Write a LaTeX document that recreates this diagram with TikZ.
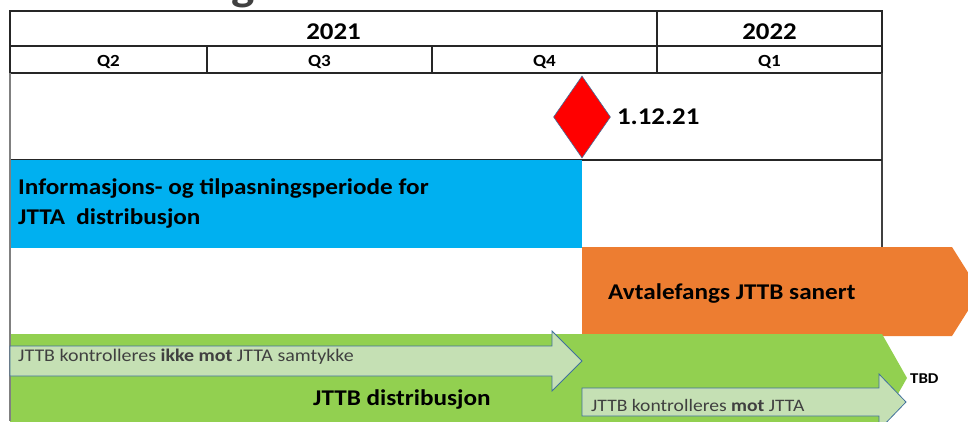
\documentclass[tikz,border=0pt]{standalone}
\usepackage{fontspec}
\setmainfont{Carlito}[FakeStretch=1.12]
\usetikzlibrary{shapes.geometric,positioning}

\definecolor{infoblue}{HTML}{00B0F0}
\definecolor{saneringorange}{HTML}{ED7D31}
\definecolor{distgreen}{HTML}{92D050}
\definecolor{palegreen}{HTML}{C5E0B4}
\definecolor{arrowedge}{HTML}{41719C}
\definecolor{textgray}{HTML}{404040}

\tikzset{
  gridline/.style={line width=1.3pt, black!85},
  bodyline/.style={line width=1.3pt, black!50},
  yearlabel/.style={font=\bfseries\fontsize{24}{24}\selectfont, anchor=base, inner sep=0pt},
  quarterlabel/.style={font=\bfseries\fontsize{17}{17}\selectfont, anchor=base, inner sep=0pt},
  barlabel/.style={font=\bfseries\fontsize{22.5}{22.5}\selectfont, anchor=base west, inner sep=0pt},
  arrowlabel/.style={font=\fontsize{17.8}{17.8}\selectfont, text=textgray, anchor=base west, inner sep=0pt},
  arrowbody/.style={fill=palegreen, draw=arrowedge, line width=0.8pt, line join=miter}
}

\begin{document}
\begin{tikzpicture}[x=1pt, y=-1pt]
            {
    \useasboundingbox (0,0) rectangle (968,421);

    \def\infobar{(10,160) rectangle (582,248)}
    \def\saneringarrow{(582,247) -- (952,247) -- (980,291.5) -- (952,336) -- (582,336) -- cycle}
    \def\distchevron{(10,334) -- (882,334) -- (907,378) -- (882,422) -- (10,422) -- cycle}
    \def\ikkemotarrow{(10,346) -- (552,346) -- (552,331) -- (582,361) -- (552,391) -- (552,376) -- (10,376) -- cycle}
    \def\motarrow{(582,388) -- (879,388) -- (879,374) -- (906,402) -- (879,430) -- (879,416) -- (582,416) -- cycle}

    % title fragment above the table
    \node[font=\bfseries\fontsize{44}{44}\selectfont, text=textgray, anchor=base, inner sep=0pt] (title) at (243,0) {g};

    % year and quarter header
    \draw[gridline] (10,11) rectangle (882,73);
    \draw[gridline] (10,46) -- (882,46);
    \draw[gridline] (657,11) -- (657,73);
    \draw[gridline] (207,46) -- (207,73);
    \draw[gridline] (432,46) -- (432,73);
    \node[yearlabel] (y2021) at (333.5,39) {2021};
    \node[yearlabel] (y2022) at (769.5,39) {2022};
    \node[quarterlabel] (q2) at (108.5,66) {Q2};
    \node[quarterlabel] (q3) at (319.5,66) {Q3};
    \node[quarterlabel] (q4) at (544.5,66) {Q4};
    \node[quarterlabel] (q1) at (769.5,66) {Q1};

    % body frame
    \draw[gridline, black!75] (882,73) -- (882,340);
    \draw[gridline] (10,160) -- (882,160);

    \fill[infoblue] \infobar;
    \fill[saneringorange] \saneringarrow;
    \fill[distgreen] \distchevron;
    \draw[bodyline] (10,73) -- (10,421);

    \draw[arrowbody] \ikkemotarrow;
    \draw[arrowbody] \motarrow;

    % milestone
    \node[diamond, fill=red, draw=arrowedge, line width=0.6pt, minimum width=57pt, minimum height=82pt, inner sep=0pt] (milestone) at (582,117) {};
    \node[yearlabel, anchor=west, right=6pt of milestone] (date) {1.12.21};

    \node[font=\bfseries\fontsize{22.5}{30}\selectfont, anchor=base west, align=left, inner sep=0pt] (info) at (18,224) {Informasjons- og tilpasningsperiode for\\JTTA~~distribusjon};
    \node[barlabel] (sanering) at (608,299) {Avtalefangs JTTB sanert};
    \node[barlabel] (dist) at (313,405) {JTTB distribusjon};
    \node[arrowlabel] (ikkemot) at (18,361) {JTTB kontrolleres \textbf{ikke mot} JTTA samtykke};
    \node[arrowlabel, font=\fontsize{17.5}{17.5}\selectfont] (mot) at (591,411) {JTTB kontrolleres~\textbf{mot} JTTA};
    \node[quarterlabel, anchor=base west, font=\bfseries\fontsize{15}{15}\selectfont] (tbd) at (910,383) {TBD};
}
\end{tikzpicture}
\end{document}
